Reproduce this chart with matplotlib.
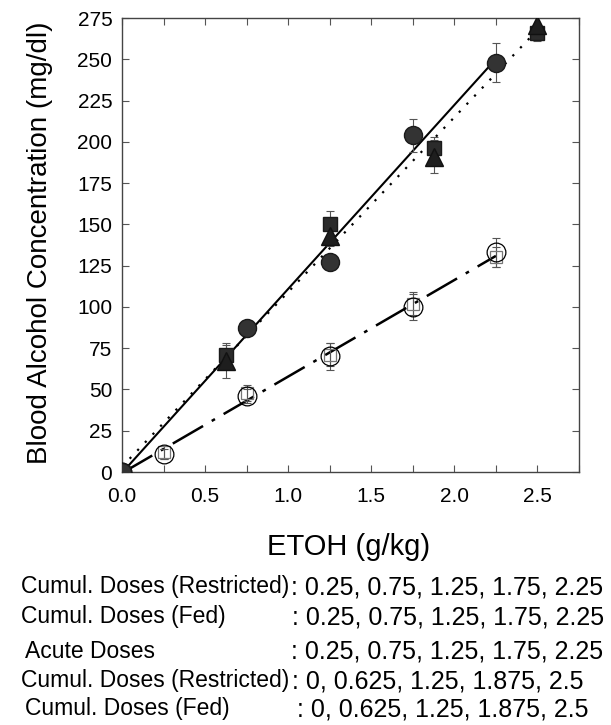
import numpy as np
import matplotlib
matplotlib.use('Agg')
import matplotlib.pyplot as plt

plt.rcParams['font.family'] = ['Liberation Sans', 'DejaVu Sans']

# filled circles (solid regression line)
circ_x = [0, 0.75, 1.25, 1.75, 2.25]
circ_y = [0, 87, 127, 204, 248]
circ_err = [0, 4, 4, 10, 12]

# open circles / open squares (dash-dot regression line)
ocirc_x = [0, 0.25, 0.75, 1.25, 1.75, 2.25]
ocirc_y = [0, 11, 46, 70, 100, 133]
ocirc_err = [0, 3, 4, 8, 8, 9]
osq_y = [0, 12, 48, 71, 102, 130]
osq_err = [0, 4, 5, 7, 7, 6]

# filled squares / triangles (dotted regression line)
tri_x = [0, 0.625, 1.25, 1.875, 2.5]
sq_y = [0, 71, 150, 196, 266]
sq_err = [0, 7, 8, 7, 5]
tri_y = [0, 67, 143, 191, 271]
tri_err = [0, 10, 6, 10, 5]

legend_labels = ['Cumul. Doses (Restricted)', 'Cumul. Doses (Fed)', 'Acute Doses',
                 'Cumul. Doses (Restricted)', 'Cumul. Doses (Fed)']
legend_values = ['0.25, 0.75, 1.25, 1.75, 2.25', '0.25, 0.75, 1.25, 1.75, 2.25',
                 '0.25, 0.75, 1.25, 1.75, 2.25', '0, 0.625, 1.25, 1.875, 2.5',
                 '0, 0.625, 1.25, 1.875, 2.5']

W, H = 611, 725
fig = plt.figure(figsize=(W / 100, H / 100), dpi=100)
ax = fig.add_axes([122 / W, 1 - 472 / H, (579 - 122) / W, (472 - 18) / H])


def fit_line(x, y, ls, lw):
    k, b = np.polyfit(x, y, 1)
    xs = np.array([min(x), max(x)])
    ax.plot(xs, k * xs + b, color='black', ls=ls, lw=lw, zorder=2)


fit_line(circ_x, circ_y, '-', 1.5)
fit_line(tri_x + tri_x, sq_y + tri_y, (0, (1, 4)), 1.6)
fit_line(ocirc_x + ocirc_x, ocirc_y + osq_y, (0, (14, 4, 1.5, 4)), 1.8)

eb = dict(ls='none', ecolor='#555555', elinewidth=0.8, capsize=3, capthick=0.8, zorder=3)
ax.errorbar(ocirc_x, ocirc_y, yerr=ocirc_err, **eb)
ax.errorbar(ocirc_x, osq_y, yerr=osq_err, **eb)
ax.errorbar(circ_x, circ_y, yerr=circ_err, **eb)
ax.errorbar(tri_x, sq_y, yerr=sq_err, **eb)
ax.errorbar(tri_x, tri_y, yerr=tri_err, **eb)

ax.plot(ocirc_x, osq_y, 's', ms=9, mfc='none', mec='#777777', mew=0.9, zorder=4)
ax.plot(ocirc_x, ocirc_y, 'o', ms=13.5, mfc='none', mec='black', mew=0.9, zorder=4)
ax.plot(tri_x, sq_y, 's', ms=10, mfc='#2b2b2b', mec='#1a1a1a', zorder=5)
ax.plot(tri_x, tri_y, '^', ms=12.5, mfc='#1e1e1e', mec='#111111', zorder=5)
ax.plot(circ_x, circ_y, 'o', ms=13, mfc='#333333', mec='#1a1a1a', zorder=5)

ax.set_xlim(0, 2.75)
ax.set_ylim(0, 275)
xt = np.arange(0, 2.76, 0.25)
ax.set_xticks(xt)
ax.set_xticklabels([f'{v:.1f}' if abs(v * 2 - round(v * 2)) < 1e-9 else '' for v in xt])
ax.set_yticks(np.arange(0, 276, 25))
ax.tick_params(direction='in', top=True, right=True, length=5, width=0.8,
               labelsize=15, color='#555555')
ax.tick_params(axis='x', pad=11)
ax.tick_params(axis='y', pad=7)
for s in ax.spines.values():
    s.set_color('#444444')
    s.set_linewidth(1.0)

fig.text(40 / W, 1 - 243 / H, 'Blood Alcohol Concentration (mg/dl)', rotation=90,
         ha='center', va='center', fontsize=20)
fig.text(349 / W, 1 - 547 / H, 'ETOH (g/kg)', ha='center', va='center', fontsize=21)

rows_y = [587, 617, 651, 681, 709]
label_x = [21, 21, 25, 21, 25]
colon_x = [291, 292, 291, 292, 297]
for lab, val, y, lx, cx in zip(legend_labels, legend_values, rows_y, label_x, colon_x):
    fig.text(lx / W, 1 - y / H, lab, ha='left', va='center', fontsize=16.5)
    fig.text(cx / W, 1 - y / H, ': ' + val, ha='left', va='center', fontsize=18)

fig.savefig('out.png', dpi=100)
